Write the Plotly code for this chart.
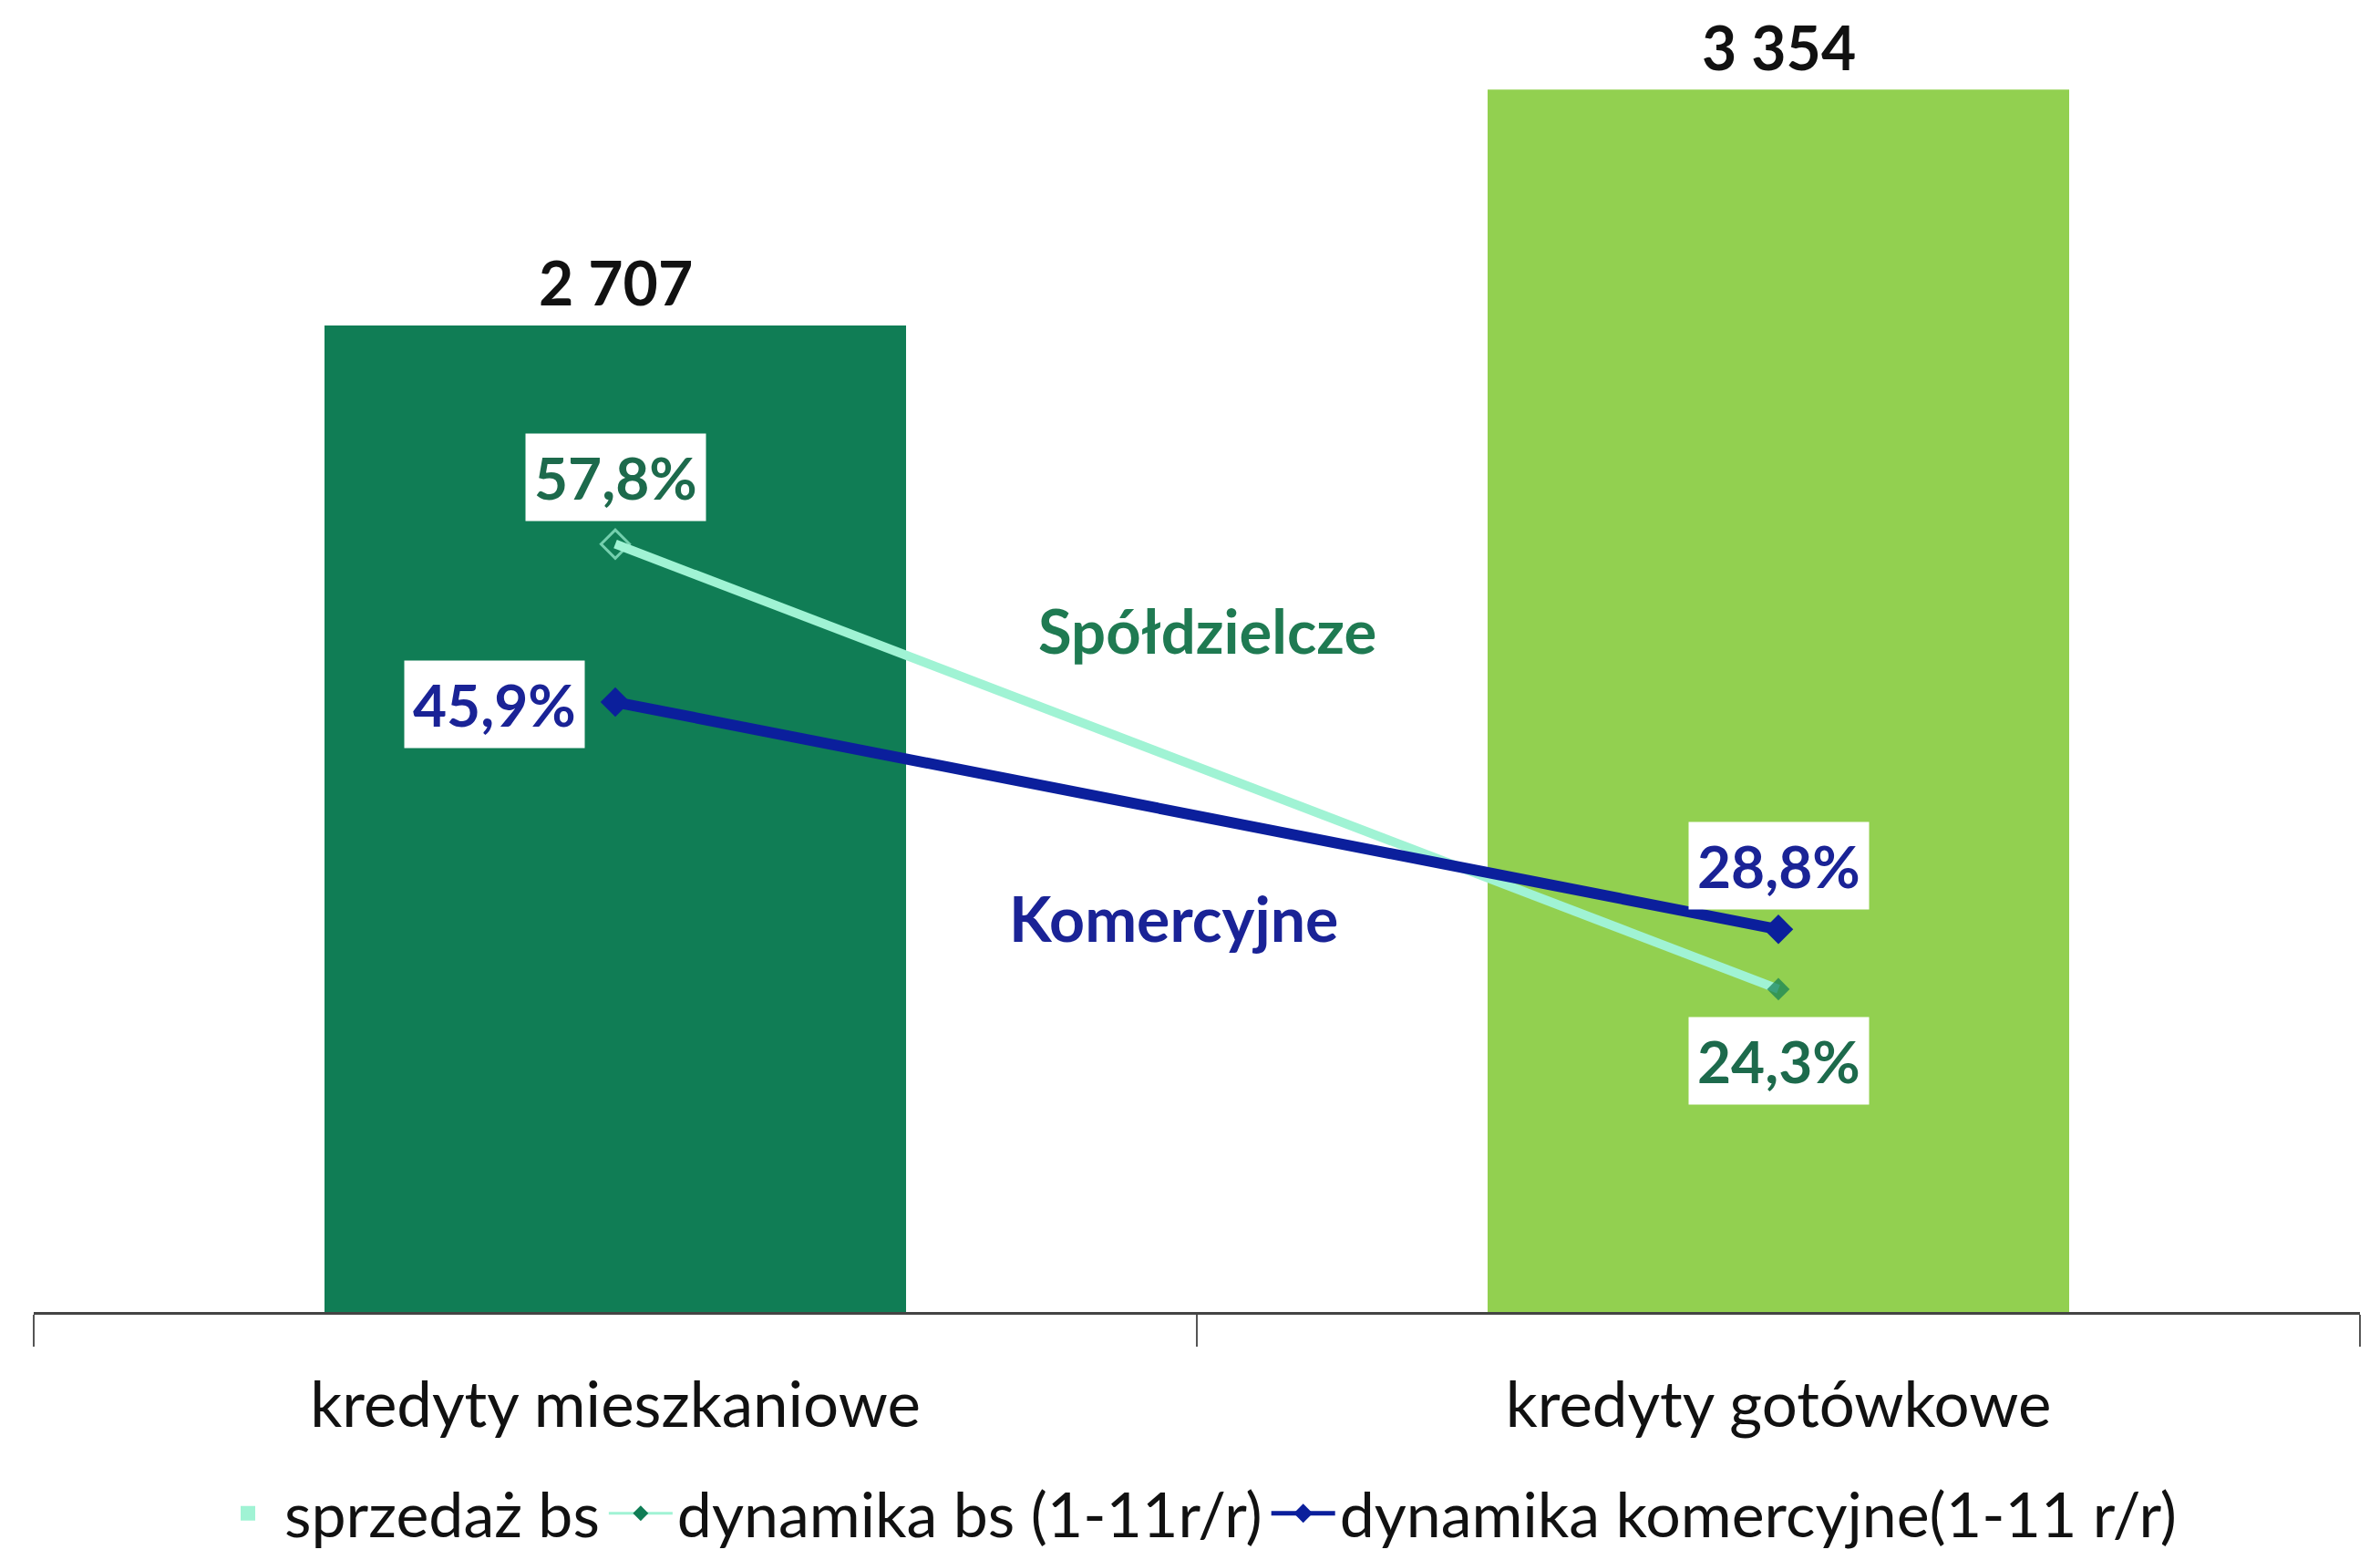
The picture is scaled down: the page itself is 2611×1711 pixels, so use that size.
import plotly.graph_objects as go

categories = ["kredyty mieszkaniowe", "kredyty gotówkowe"]
sales_bs = [2707, 3354]
sales_labels = ["2 707", "3 354"]
dyn_bs = [57.8, 24.3]
dyn_bs_labels = ["57,8%", "24,3%"]
dyn_kom = [45.9, 28.8]
dyn_kom_labels = ["45,9%", "28,8%"]

FONT = "Lato"
BAR_COLORS = ["#107d55", "#92d050"]
AQUA = "#a0f3d4"
DKGREEN = "#0f7d55"
BLUE = "#0b1f9c"
GREEN_TXT = "#1d6a4c"
BLUE_TXT = "#1a2396"

fig = go.Figure()

# bars
fig.add_trace(go.Bar(x=categories, y=sales_bs, width=0.5, marker=dict(color=BAR_COLORS, line=dict(width=0)),
                     name="sprzedaż bs", showlegend=False, yaxis="y"))
# lines
fig.add_trace(go.Scatter(x=categories, y=dyn_bs, mode="lines+markers", yaxis="y2",
                         line=dict(color=AQUA, width=10),
                         marker=dict(symbol=["diamond-open", "diamond"], size=[24, 19],
                                     color=[AQUA, DKGREEN], line=dict(width=[3, 0], color=AQUA)),
                         name="dynamika bs (1-11r/r)", showlegend=False))
fig.add_trace(go.Scatter(x=categories, y=dyn_kom, mode="lines+markers", yaxis="y2",
                         line=dict(color=BLUE, width=12),
                         marker=dict(symbol="diamond", size=25, color=BLUE),
                         name="dynamika komercyjne(1-11 r/r)", showlegend=False))

# legend-only entries
fig.add_trace(go.Scatter(x=[None], y=[None], mode="markers", yaxis="y",
                         marker=dict(symbol="square", size=16, color=AQUA), name="sprzedaż bs"))
fig.add_trace(go.Scatter(x=[None], y=[None], mode="lines+markers", yaxis="y2",
                         line=dict(color=AQUA, width=3), marker=dict(symbol="diamond", size=13, color=DKGREEN),
                         name="dynamika bs (1-11r/r)"))
fig.add_trace(go.Scatter(x=[None], y=[None], mode="lines+markers", yaxis="y2",
                         line=dict(color=BLUE, width=5), marker=dict(symbol="diamond", size=16, color=BLUE),
                         name="dynamika komercyjne(1-11 r/r)"))

ann = []
for c, v, t in zip(categories, sales_bs, sales_labels):
    ann.append(dict(x=c, y=v, xref="x", yref="y", text=f"<b>{t}</b>", showarrow=False,
                    yanchor="middle", yshift=47, font=dict(family=FONT, size=66, color="#111111")))

# percent labels
lab_pos = [
    (categories[0], dyn_bs[0], dyn_bs_labels[0], GREEN_TXT, "center", 0, 73),
    (categories[1], dyn_bs[1], dyn_bs_labels[1], GREEN_TXT, "center", 0, -79),
    (categories[0], dyn_kom[0], dyn_kom_labels[0], BLUE_TXT, "right", -33, -2),
    (categories[1], dyn_kom[1], dyn_kom_labels[1], BLUE_TXT, "center", 0, 70),
]
for c, v, t, col, xa, xs, ys in lab_pos:
    ann.append(dict(x=c, y=v, xref="x", yref="y2", text=f"<b>{t}</b>", showarrow=False,
                    xanchor=xa, yanchor="middle", xshift=xs, yshift=ys, bgcolor="white", borderpad=9,
                    font=dict(family=FONT, size=64, color=col)))

ann.append(dict(x=0.509, y=51.3, xref="x", yref="y2", text="<b>Spółdzielcze</b>", showarrow=False,
                font=dict(family=FONT, size=67, color="#1f7a52")))
ann.append(dict(x=0.48, y=29.7, xref="x", yref="y2", text="<b>Komercyjne</b>", showarrow=False,
                font=dict(family=FONT, size=68, color=BLUE_TXT)))

# page body has an 8px margin: figure is placed at (8, 8)
fig.update_layout(
    width=2595, height=1695,
    margin=dict(l=29, r=14, t=32, b=264, autoexpand=False),
    paper_bgcolor="white", plot_bgcolor="white",
    font=dict(family=FONT, size=68, color="#111111"),
    xaxis=dict(type="category", tickson="boundaries", ticks="outside", ticklen=35, tickwidth=2,
               tickcolor="#555555", showline=True, linecolor="#444444", linewidth=3,
               showgrid=False, ticklabelstandoff=40,
               tickfont=dict(family=FONT, size=69, color="#111111")),
    yaxis=dict(range=[0, 3500], visible=False, showgrid=False),
    yaxis2=dict(range=[0, 96], overlaying="y", visible=False, showgrid=False),
    legend=dict(orientation="h", x=0.5, xanchor="center", y=-0.158, yanchor="middle",
                itemwidth=70, font=dict(family=FONT, size=68, color="#111111"), traceorder="normal"),
    annotations=ann,
)

fig.write_html("out.html")
